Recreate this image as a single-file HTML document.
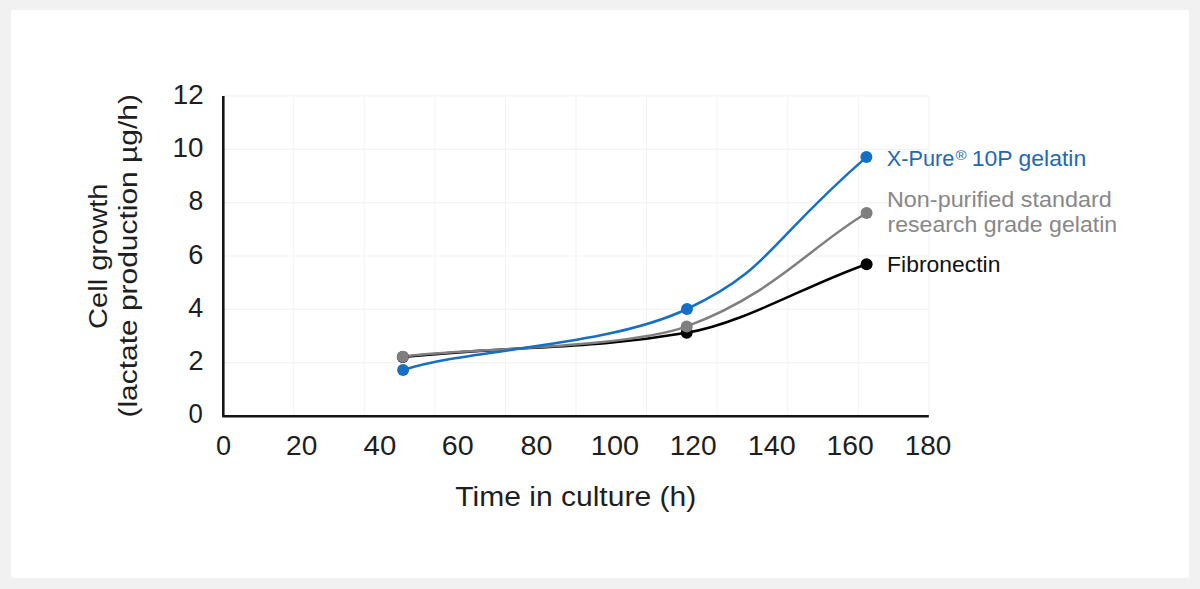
<!DOCTYPE html>
<html><head><meta charset="utf-8"><style>
html,body{margin:0;padding:0;background:#f1f1f1;}
svg{display:block;}
text{font-family:"Liberation Sans",sans-serif;}
</style></head><body>
<svg width="1200" height="589" viewBox="0 0 1200 589">
<rect x="0" y="0" width="1200" height="589" fill="#f1f1f1"/>
<rect x="11" y="10" width="1178" height="568" rx="2.5" fill="#ffffff"/>
<g stroke="#f4f4f4" stroke-width="1.2"><line x1="223.0" y1="96" x2="223.0" y2="416" /><line x1="293.6" y1="96" x2="293.6" y2="416" /><line x1="364.2" y1="96" x2="364.2" y2="416" /><line x1="434.8" y1="96" x2="434.8" y2="416" /><line x1="505.4" y1="96" x2="505.4" y2="416" /><line x1="576.0" y1="96" x2="576.0" y2="416" /><line x1="646.6" y1="96" x2="646.6" y2="416" /><line x1="717.2" y1="96" x2="717.2" y2="416" /><line x1="787.8" y1="96" x2="787.8" y2="416" /><line x1="858.4" y1="96" x2="858.4" y2="416" /><line x1="929.0" y1="96" x2="929.0" y2="416" /><line x1="223" y1="96.0" x2="929" y2="96.0" /><line x1="223" y1="149.3" x2="929" y2="149.3" /><line x1="223" y1="202.7" x2="929" y2="202.7" /><line x1="223" y1="256.0" x2="929" y2="256.0" /><line x1="223" y1="309.3" x2="929" y2="309.3" /><line x1="223" y1="362.7" x2="929" y2="362.7" /><line x1="223" y1="416.0" x2="929" y2="416.0" /></g>
<path d="M223.3,96 V416.2 H928.8" fill="none" stroke="#141414" stroke-width="2.6" stroke-linejoin="round"/>
<g fill="none" stroke-width="2.5" stroke-linecap="round">
<path d="M402.80,357.00 C528.12,344.74 584.58,350.14 686.70,332.80 C744.65,322.96 806.84,284.69 866.60,264.20" stroke="#000000"/>
<path d="M402.80,356.80 C447.73,348.85 625.00,349.28 686.70,326.40 C773.91,294.05 809.07,247.30 866.60,213.00" stroke="#7f7f7f"/>
<path d="M403.10,370.10 C467.39,348.67 606.80,347.15 687.00,309.00 C771.33,268.89 767.71,242.88 866.40,157.10" stroke="#1570c4"/>
</g>
<g>
<circle cx="402.8" cy="357.0" r="6.0" fill="#000000"/><circle cx="686.7" cy="332.8" r="6.0" fill="#000000"/><circle cx="866.6" cy="264.2" r="6.0" fill="#000000"/>
<circle cx="402.8" cy="356.8" r="6.0" fill="#7f7f7f"/><circle cx="686.7" cy="326.4" r="6.0" fill="#7f7f7f"/><circle cx="866.6" cy="213.0" r="6.0" fill="#7f7f7f"/>
<circle cx="403.1" cy="370.1" r="6.0" fill="#1570c4"/><circle cx="687.0" cy="309.0" r="6.0" fill="#1570c4"/><circle cx="866.4" cy="157.1" r="6.0" fill="#1570c4"/>
</g>
<text x="172.85" y="103.90" font-size="26.89" fill="#1e1e1e" textLength="30.93" lengthAdjust="spacingAndGlyphs">12</text><text x="172.62" y="157.10" font-size="26.89" fill="#1e1e1e" textLength="30.88" lengthAdjust="spacingAndGlyphs">10</text><text x="188.47" y="210.30" font-size="26.89" fill="#1e1e1e" textLength="14.76" lengthAdjust="spacingAndGlyphs">8</text><text x="188.31" y="263.50" font-size="26.89" fill="#1e1e1e" textLength="15.15" lengthAdjust="spacingAndGlyphs">6</text><text x="188.16" y="316.70" font-size="26.89" fill="#1e1e1e" textLength="14.96" lengthAdjust="spacingAndGlyphs">4</text><text x="188.54" y="369.90" font-size="26.89" fill="#1e1e1e" textLength="15.02" lengthAdjust="spacingAndGlyphs">2</text><text x="188.57" y="423.10" font-size="26.89" fill="#1e1e1e" textLength="14.33" lengthAdjust="spacingAndGlyphs">0</text><text x="216.11" y="454.80" font-size="27.181" fill="#1e1e1e" textLength="15.13" lengthAdjust="spacingAndGlyphs">0</text><text x="286.02" y="454.80" font-size="27.181" fill="#1e1e1e" textLength="31.26" lengthAdjust="spacingAndGlyphs">20</text><text x="363.62" y="454.80" font-size="27.181" fill="#1e1e1e" textLength="32.71" lengthAdjust="spacingAndGlyphs">40</text><text x="441.85" y="454.80" font-size="27.181" fill="#1e1e1e" textLength="31.93" lengthAdjust="spacingAndGlyphs">60</text><text x="520.59" y="454.80" font-size="27.181" fill="#1e1e1e" textLength="31.88" lengthAdjust="spacingAndGlyphs">80</text><text x="590.84" y="454.80" font-size="27.181" fill="#1e1e1e" textLength="48.18" lengthAdjust="spacingAndGlyphs">100</text><text x="669.66" y="454.80" font-size="27.181" fill="#1e1e1e" textLength="46.89" lengthAdjust="spacingAndGlyphs">120</text><text x="747.69" y="454.80" font-size="27.181" fill="#1e1e1e" textLength="47.97" lengthAdjust="spacingAndGlyphs">140</text><text x="826.48" y="454.80" font-size="27.181" fill="#1e1e1e" textLength="47.24" lengthAdjust="spacingAndGlyphs">160</text><text x="904.75" y="454.80" font-size="27.181" fill="#1e1e1e" textLength="46.66" lengthAdjust="spacingAndGlyphs">180</text><text x="455.28" y="505.50" font-size="27.617" fill="#1e1e1e" textLength="240.93" lengthAdjust="spacingAndGlyphs">Time in culture (h)</text><text x="886.75" y="165.50" font-size="21.803" fill="#2169b2" textLength="67.63" lengthAdjust="spacingAndGlyphs">X-Pure</text><text x="955.40" y="159.56" font-size="13.704" fill="#2169b2" textLength="11.06" lengthAdjust="spacingAndGlyphs">®</text><text x="971.84" y="165.50" font-size="21.803" fill="#2169b2" textLength="114.32" lengthAdjust="spacingAndGlyphs">10P gelatin</text><text x="887.01" y="206.70" font-size="21.512" fill="#888888" textLength="224.67" lengthAdjust="spacingAndGlyphs">Non-purified standard</text><text x="887.51" y="231.70" font-size="21.512" fill="#888888" textLength="229.60" lengthAdjust="spacingAndGlyphs">research grade gelatin</text><text x="887.07" y="271.70" font-size="21.512" fill="#111111" textLength="113.31" lengthAdjust="spacingAndGlyphs">Fibronectin</text>
<g transform="translate(106.50,328.93) rotate(-90)"><text x="0.00" y="0.00" font-size="26.4" fill="#1e1e1e" textLength="145.29" lengthAdjust="spacingAndGlyphs">Cell growth</text></g><g transform="translate(136.70,417.50) rotate(-90)"><text x="0.00" y="0.00" font-size="25.6" fill="#1e1e1e" textLength="323.36" lengthAdjust="spacingAndGlyphs">(lactate production µg/h)</text></g>
</svg>
</body></html>
